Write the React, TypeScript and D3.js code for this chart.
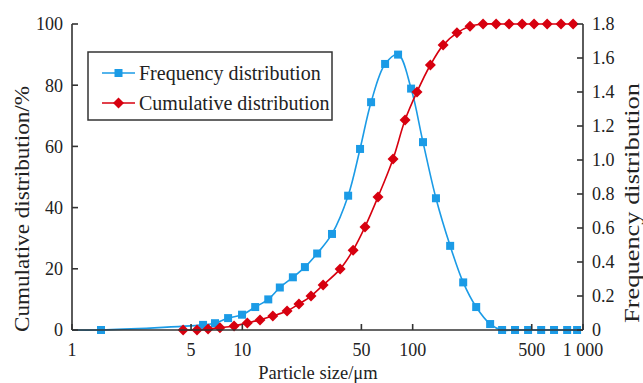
import React from "react";
import * as d3 from "d3";

// frequency distribution (right axis)
const freqSize = [1.48, 5.88, 6.91, 8.25, 9.96, 11.9, 14.2, 16.6, 19.8, 23.3, 27.5, 33.6, 41.8, 49.1, 57.0, 68.9, 82.1, 97.9, 115, 137, 166, 198, 236, 285, 335, 399, 476, 568, 676, 807, 923];
const freqValue = [0, 0.03, 0.04, 0.07, 0.09, 0.135, 0.18, 0.25, 0.31, 0.37, 0.45, 0.565, 0.79, 1.065, 1.34, 1.565, 1.62, 1.42, 1.105, 0.775, 0.495, 0.28, 0.135, 0.035, 0, 0, 0, 0, 0, 0, 0];

// cumulative distribution (left axis, %)
const cumSize = [4.49, 5.42, 6.29, 7.39, 8.94, 10.7, 12.7, 15.1, 18.3, 21.5, 25.3, 29.8, 37.5, 44.7, 52.5, 62.6, 76.7, 90.2, 106, 127, 151, 182, 217, 259, 309, 368, 439, 516, 616, 743, 875];
const cumValue = [0, 0, 0.3, 0.7, 1.3, 2.3, 3.3, 4.6, 6.2, 8.5, 11.1, 14.7, 19.9, 26.1, 33.7, 43.5, 55.9, 68.6, 77.8, 86.6, 93.1, 97.1, 99.3, 100, 100, 100, 100, 100, 100, 100, 100];

const xTicks = [1, 5, 10, 50, 100, 500, 1000];
const xTickLabels = ["1", "5", "10", "50", "100", "500", "1 000"];
const leftTicks = [0, 20, 40, 60, 80, 100];
const rightTicks = [0, 0.2, 0.4, 0.6, 0.8, 1.0, 1.2, 1.4, 1.6, 1.8];
const rightTickLabels = ["0", "0.2", "0.4", "0.6", "0.8", "1.0", "1.2", "1.4", "1.6", "1.8"];

const BLUE = "#1b9be6";
const RED = "#d7000f";
const AXIS = "#333";
const FONT = "'Liberation Serif', 'Times New Roman', serif";

export default function App() {
  const width = 643, height = 383;
  const left = 72, right = 583, top = 24, bottom = 330;

  const x = d3.scaleLog().domain([1, 1000]).range([left, right]);
  const yL = d3.scaleLinear().domain([0, 100]).range([bottom, top]);
  const yR = d3.scaleLinear().domain([0, 1.8]).range([bottom, top]);

  const freq = freqSize.map((s, i) => ({ s, v: freqValue[i] }));
  const cum = cumSize.map((s, i) => ({ s, v: cumValue[i] }));

  const freqLine = d3.line<{ s: number; v: number }>()
    .x(d => x(d.s)).y(d => yR(d.v))
    .curve(d3.curveCatmullRom.alpha(0.5));
  const cumLine = d3.line<{ s: number; v: number }>()
    .x(d => x(d.s)).y(d => yL(d.v))
    .curve(d3.curveCatmullRom.alpha(0.5));

  const freqPath = freqLine([{ s: x.domain()[0], v: 0 }, ...freq]) || "";
  const cumPath = cumLine(cum) || "";

  const sq = 8;
  const dm = 5.5;
  const diamond = (cx: number, cy: number) =>
    `M${cx},${cy - dm}L${cx + dm},${cy}L${cx},${cy + dm}L${cx - dm},${cy}Z`;

  const tickLen = 6;

  return (
    <svg width={width} height={height} style={{ position: "absolute", left: 0, top: 0, background: "#fff" }}
      fontFamily={FONT}>
      <rect width={width} height={height} fill="#fff" />

      {/* curves */}
      <path d={freqPath} fill="none" stroke={BLUE} strokeWidth={1.6} />
      <path d={cumPath} fill="none" stroke={RED} strokeWidth={1.6} />
      {freq.map((d, i) => (
        <rect key={"f" + i} x={x(d.s) - sq / 2} y={yR(d.v) - sq / 2} width={sq} height={sq} fill={BLUE} />
      ))}
      {cum.map((d, i) => (
        <path key={"c" + i} d={diamond(x(d.s), yL(d.v))} fill={RED} />
      ))}

      {/* axes */}
      <g stroke={AXIS} strokeWidth={1.6} fill="none">
        <line x1={left} x2={left} y1={top} y2={bottom} />
        <line x1={right} x2={right} y1={top} y2={bottom} />
        <line x1={left} x2={right} y1={bottom} y2={bottom} />
        {leftTicks.map(t => (
          <line key={"lt" + t} x1={left} x2={left + tickLen} y1={yL(t)} y2={yL(t)} />
        ))}
        {rightTicks.map(t => (
          <line key={"rt" + t} x1={right} x2={right - tickLen} y1={yR(t)} y2={yR(t)} />
        ))}
        {xTicks.map(t => (
          <line key={"xt" + t} x1={x(t)} x2={x(t)} y1={bottom} y2={bottom - tickLen} />
        ))}
      </g>

      <g fontSize={18} fill="#222">
        {leftTicks.map(t => (
          <text key={"ll" + t} x={left - 9} y={yL(t)} dy="0.35em" textAnchor="end">{t}</text>
        ))}
        {rightTicks.map((t, i) => (
          <text key={"rl" + t} x={right + 9} y={yR(t)} dy="0.35em">{rightTickLabels[i]}</text>
        ))}
        {xTicks.map((t, i) => (
          <text key={"xl" + t} x={x(t)} y={bottom + 26} textAnchor="middle">{xTickLabels[i]}</text>
        ))}
        <text x={318} y={379} fontSize={18.5} textAnchor="middle">Particle size/μm</text>
        <text transform="translate(29,209) rotate(-90)" fontSize={21} textAnchor="middle"
          textLength={246} lengthAdjust="spacingAndGlyphs">Cumulative distribution/%</text>
        <text transform="translate(639,203) rotate(-90)" fontSize={21} textAnchor="middle"
          textLength={240} lengthAdjust="spacingAndGlyphs">Frequency distribution</text>
      </g>

      {/* legend */}
      <g>
        <rect x={88} y={52} width={244} height={68} fill="#fff" stroke={AXIS} strokeWidth={1.5} />
        <line x1={102} x2={135} y1={73} y2={73} stroke={BLUE} strokeWidth={1.6} />
        <rect x={118.5 - sq / 2} y={73 - sq / 2} width={sq} height={sq} fill={BLUE} />
        <line x1={102} x2={135} y1={103} y2={103} stroke={RED} strokeWidth={1.6} />
        <path d={diamond(118.5, 103)} fill={RED} />
        <g fontSize={20} fill="#222">
          <text x={139} y={73} dy="0.35em">Frequency distribution</text>
          <text x={139} y={103} dy="0.35em">Cumulative distribution</text>
        </g>
      </g>
    </svg>
  );
}
